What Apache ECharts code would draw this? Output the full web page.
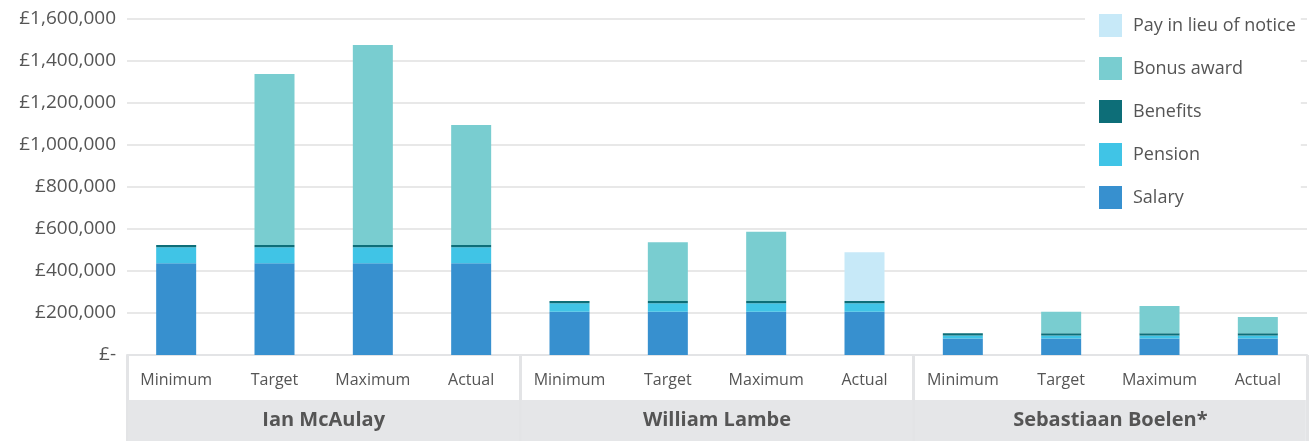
<!DOCTYPE html>
<html>
<head>
<meta charset="utf-8">
<script src="https://cdn.jsdelivr.net/npm/echarts@6/dist/echarts.min.js"></script>
<style>
  html, body { margin: 0; padding: 0; background: #fff; }
  #main { width: 1315px; height: 441px; }
</style>
</head>
<body>
<div id="main"></div>
<script>
// categories
const scenarios = ['Minimum', 'Target', 'Maximum', 'Actual',
                   'Minimum', 'Target', 'Maximum', 'Actual',
                   'Minimum', 'Target', 'Maximum', 'Actual'];
const directors = ['Ian McAulay', 'William Lambe', 'Sebastiaan Boelen*'];

// series values (£)
const salary   = [437000, 437000, 437000, 437000, 206000, 206000, 206000, 206000, 78000, 78000, 78000, 78000];
const pension  = [76000, 76000, 76000, 76000, 40000, 40000, 40000, 40000, 15000, 15000, 15000, 15000];
const benefits = [11000, 11000, 11000, 11000, 11000, 11000, 11000, 11000, 11000, 11000, 11000, 11000];
const bonus    = [null, 814000, 952000, 571000, null, 280000, 330000, null, null, 102000, 129000, 77000];
const pilon    = [null, null, null, null, null, null, null, 232000, null, null, null, null];

const yTicks = { min: 0, max: 1600000, interval: 200000 };

const myChart = echarts.init(document.getElementById('main'));
const font = '"Open Sans", Lato, sans-serif';

function bar(name, data, color) {
    return {
        name: name,
        type: 'bar',
        stack: 'total',
        barWidth: 40,
        data: data,
        itemStyle: { color: color }
    };
}

myChart.setOption({
    animation: false,
    textStyle: { fontFamily: font },
    grid: { left: 127, right: 8, top: 19, bottom: 86 },
    legend: {
        orient: 'vertical',
        left: 1085,
        top: 0,
        padding: [14, 5, 12, 14],
        backgroundColor: '#fff',
        itemWidth: 23,
        itemHeight: 23,
        itemGap: 20,
        icon: 'rect',
        textStyle: { fontSize: 18, color: '#555', fontFamily: font, height: 23, lineHeight: 23, padding: [0, 0, 0, 6] },
        data: ['Pay in lieu of notice', 'Bonus award', 'Benefits', 'Pension', 'Salary']
    },
    xAxis: [
        {
            type: 'category',
            data: scenarios,
            axisLine: { lineStyle: { color: '#e3e4e6', width: 2 } },
            axisTick: { show: false },
            axisLabel: { color: '#555', fontSize: 16, margin: 17, fontFamily: font, interval: 0 }
        },
        {
            type: 'category',
            position: 'bottom',
            data: directors,
            axisLine: { show: false },
            axisTick: { show: true, length: 86, lineStyle: { color: '#e3e4e6', width: 3 } },
            axisLabel: {
                margin: 45,
                interval: 0,
                color: '#555',
                fontSize: 20,
                fontWeight: 'bold',
                fontFamily: font,
                backgroundColor: '#e5e6e8',
                width: 391,
                height: 41,
                lineHeight: 41,
                align: 'center'
            }
        }
    ],
    yAxis: {
        type: 'value',
        min: yTicks.min,
        max: yTicks.max,
        interval: yTicks.interval,
        axisLine: { show: false },
        axisTick: { show: false },
        splitLine: { lineStyle: { color: '#e8e8e8', width: 2 } },
        axisLabel: {
            color: '#555',
            fontSize: 19,
            margin: 11,
            fontFamily: font,
            formatter: function (v) {
                return v === 0 ? '£-' : '£' + v.toLocaleString('en-GB');
            }
        }
    },
    series: [
        bar('Salary', salary, '#3790cf'),
        bar('Pension', pension, '#40c4e6'),
        bar('Benefits', benefits, '#0d6e78'),
        bar('Bonus award', bonus, '#79cdd0'),
        bar('Pay in lieu of notice', pilon, '#c7e9f8')
    ]
});
</script>
</body>
</html>
